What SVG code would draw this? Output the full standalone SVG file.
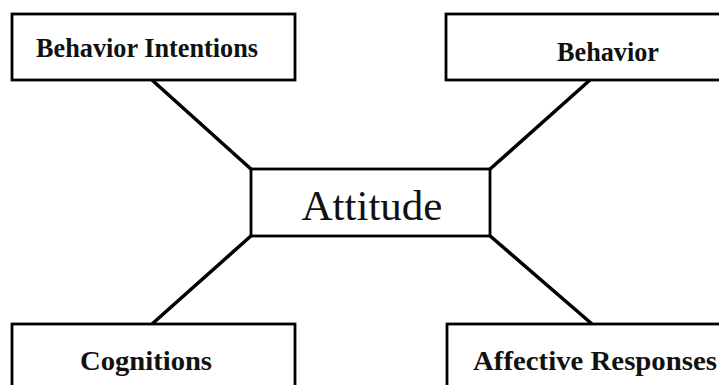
<svg xmlns="http://www.w3.org/2000/svg" width="719" height="385" viewBox="0 0 719 385">
<style>
.box{fill:#fff;stroke:#000;stroke-width:2.8}
.lbl{font-family:"Liberation Serif","Times New Roman",serif;font-weight:bold;font-size:28px;fill:#111;text-anchor:middle}
.big{font-family:"Liberation Serif","Times New Roman",serif;font-size:43px;fill:#111;text-anchor:middle}
.edge{stroke:#000;stroke-width:3.5;fill:none}
</style>
<rect width="719" height="385" fill="#fff"/>
<g id="connectors">
<line class="edge" x1="152" y1="80" x2="252" y2="170"/>
<line class="edge" x1="590" y1="80" x2="489" y2="170"/>
<line class="edge" x1="252" y1="235" x2="152" y2="324"/>
<line class="edge" x1="489" y1="235" x2="592" y2="324"/>
</g>
<g id="behavior-intentions">
<rect class="box" x="12" y="14" width="283" height="66"/>
<text class="lbl" x="147" y="57" textLength="222" lengthAdjust="spacingAndGlyphs">Behavior Intentions</text>
</g>
<g id="behavior">
<rect class="box" x="446" y="14" width="330" height="66"/>
<text class="lbl" x="608" y="61" textLength="102" lengthAdjust="spacingAndGlyphs">Behavior</text>
</g>
<g id="attitude">
<rect class="box" x="251" y="169" width="239" height="67"/>
<text class="big" x="372" y="220">Attitude</text>
</g>
<g id="cognitions">
<rect class="box" x="12" y="324" width="283" height="80"/>
<text class="lbl" x="146" y="370" textLength="132" lengthAdjust="spacingAndGlyphs">Cognitions</text>
</g>
<g id="affective-responses">
<rect class="box" x="447" y="324" width="330" height="80"/>
<text class="lbl" x="595" y="370" textLength="244" lengthAdjust="spacingAndGlyphs">Affective Responses</text>
</g>
</svg>
